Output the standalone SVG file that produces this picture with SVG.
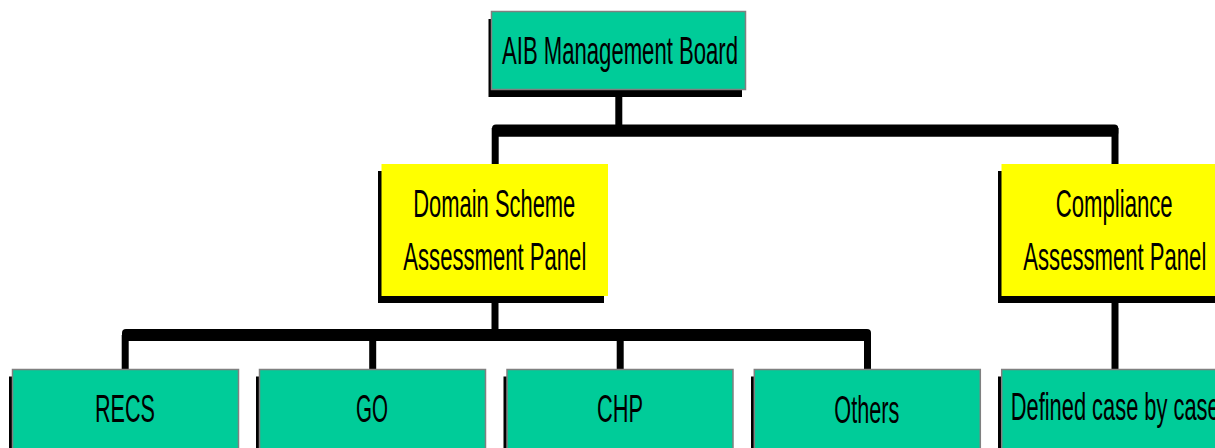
<svg xmlns="http://www.w3.org/2000/svg" width="1215" height="448" viewBox="0 0 1215 448">
<style>
.shadow{fill:#000}
.teal{fill:#00CC99;stroke:#808080;stroke-width:1.5}
.yellow{fill:#FFFF00;stroke:none}
.lbl{font-family:"Liberation Sans",Arial,sans-serif;font-size:38px;fill:#000}
.bar{fill:#000}
.v{stroke:#000;stroke-width:7;fill:none}
</style>
<rect width="1215" height="448" fill="#fff"/>
<g id="connectors">
<rect class="bar" x="492" y="124.5" width="626.3" height="12.2" rx="4"/>
<line class="v" x1="618.8" y1="95" x2="618.8" y2="128"/>
<line class="v" x1="495.2" y1="128" x2="495.2" y2="165"/>
<line class="v" x1="1115" y1="128" x2="1115" y2="165"/>
<line class="v" x1="495" y1="300" x2="495" y2="333"/>
<rect class="bar" x="122" y="329" width="749" height="12" rx="4"/>
<line class="v" x1="125.2" y1="335" x2="125.2" y2="370"/>
<line class="v" x1="372.7" y1="335" x2="372.7" y2="370"/>
<line class="v" x1="620.2" y1="335" x2="620.2" y2="370"/>
<line class="v" x1="867.5" y1="335" x2="867.5" y2="370"/>
<line class="v" x1="1115" y1="300" x2="1115" y2="370"/>
</g>
<g id="aib">
<rect class="shadow" x="488.5" y="19" width="253.5" height="78"/>
<rect class="teal" x="491.5" y="11.5" width="254" height="78"/>
<text class="lbl" x="502" y="63.5" textLength="236" lengthAdjust="spacingAndGlyphs">AIB Management Board</text>
</g>
<g id="domain">
<rect class="shadow" x="378" y="171" width="226" height="132"/>
<rect class="yellow" x="381.5" y="164" width="226.5" height="132"/>
<text class="lbl" x="413.3" y="216.7" textLength="162" lengthAdjust="spacingAndGlyphs">Domain Scheme</text>
<text class="lbl" x="403.3" y="270" textLength="183" lengthAdjust="spacingAndGlyphs">Assessment Panel</text>
</g>
<g id="compliance">
<rect class="shadow" x="998" y="171" width="226" height="132"/>
<rect class="yellow" x="1001.5" y="164" width="226.5" height="132"/>
<text class="lbl" x="1055.7" y="216.7" textLength="117" lengthAdjust="spacingAndGlyphs">Compliance</text>
<text class="lbl" x="1023.3" y="270" textLength="183" lengthAdjust="spacingAndGlyphs">Assessment Panel</text>
</g>
<g id="recs">
<rect class="shadow" x="9" y="376.5" width="226" height="80"/>
<rect class="teal" x="12.5" y="369.5" width="226" height="90"/>
<text class="lbl" x="95" y="421.7" textLength="60" lengthAdjust="spacingAndGlyphs">RECS</text>
</g>
<g id="go">
<rect class="shadow" x="256" y="376.5" width="226" height="80"/>
<rect class="teal" x="259.5" y="369.5" width="226" height="90"/>
<text class="lbl" x="356" y="422" textLength="32" lengthAdjust="spacingAndGlyphs">GO</text>
</g>
<g id="chp">
<rect class="shadow" x="503.5" y="376.5" width="226" height="80"/>
<rect class="teal" x="507" y="369.5" width="226" height="90"/>
<text class="lbl" x="597" y="422" textLength="46" lengthAdjust="spacingAndGlyphs">CHP</text>
</g>
<g id="others">
<rect class="shadow" x="751" y="376.5" width="226" height="80"/>
<rect class="teal" x="754.3" y="369.5" width="226" height="90"/>
<text class="lbl" x="834.3" y="422.5" textLength="65" lengthAdjust="spacingAndGlyphs">Others</text>
</g>
<g id="defined">
<rect class="shadow" x="998" y="376.5" width="226" height="80"/>
<rect class="teal" x="1001.7" y="369.5" width="226" height="90"/>
<text class="lbl" x="1010.7" y="420" textLength="209" lengthAdjust="spacingAndGlyphs">Defined case by case</text>
</g>
</svg>
